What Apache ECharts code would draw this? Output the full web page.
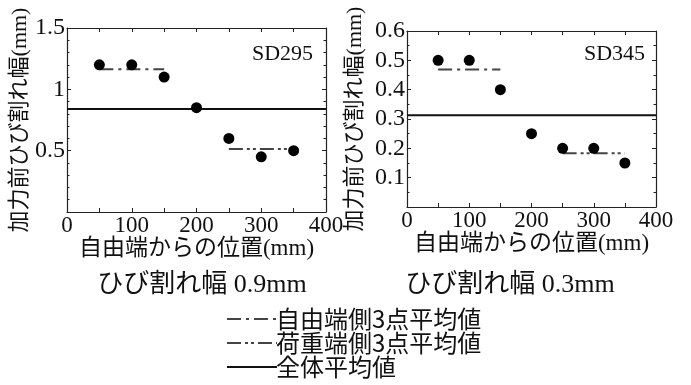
<!DOCTYPE html>
<html>
<head>
<meta charset="utf-8">
<script src="https://cdn.jsdelivr.net/npm/echarts@6/dist/echarts.min.js"></script>
<style>
html, body { margin: 0; background: #fff; }
#chart { width: 691px; height: 385px; }
</style>
</head>
<body>
<div id="chart"></div>
<script>
// 自由端からの位置 (mm)
var positions = [50, 100, 150, 200, 250, 300, 350];
// 加力前ひび割れ幅 (mm)
var crackSD295 = [1.2, 1.2, 1.1, 0.85, 0.6, 0.45, 0.5];
var crackSD345 = [0.5, 0.5, 0.4, 0.25, 0.2, 0.2, 0.15];
// averages
var freeAvgSD295 = 1.163, loadAvgSD295 = 0.514, allAvgSD295 = 0.84;
var freeAvgSD345 = 0.469, loadAvgSD345 = 0.183, allAvgSD345 = 0.313;
var freeRange = [50, 150];
var loadRange = [250, 350];
var fullRange = [0, 400];

var FONT = "'Liberation Serif', 'Noto Sans CJK JP', serif";
var SANS = "'Noto Sans CJK JP', sans-serif";
var NAME_FREE = '自由端側3点平均値';
var NAME_LOAD = '荷重端側3点平均値';
var NAME_ALL = '全体平均値';

var chartDom = document.getElementById('chart');
var myChart = echarts.init(chartDom);

function pts(xs, ys) {
  return xs.map(function (x, i) { return [x, ys[i]]; });
}
function hline(range, v) {
  return [[range[0], v], [range[1], v]];
}

var AXIS_LINE = { show: true, onZero: false, lineStyle: { color: '#222', width: 1.2 } };
function ticks(len) {
  return { show: true, inside: true, length: len, lineStyle: { color: '#222', width: 1 } };
}

function mainX(gi) {
  return {
    gridIndex: gi, type: 'value', position: 'bottom', min: 0, max: 400, interval: 100,
    name: '自由端からの位置(mm)', nameLocation: 'middle', nameGap: 24,
    nameTextStyle: { fontFamily: FONT, fontSize: 23, color: '#111' },
    axisLine: AXIS_LINE,
    axisTick: ticks(4),
    minorTick: Object.assign({ splitNumber: 2 }, ticks(4)),
    axisLabel: { fontFamily: FONT, fontSize: 23, color: '#111', margin: 2 },
    splitLine: { show: false }
  };
}
function mirrorX(gi) {
  return {
    gridIndex: gi, type: 'value', position: 'top', min: 0, max: 400, interval: 100,
    axisLine: AXIS_LINE,
    axisTick: ticks(4),
    minorTick: Object.assign({ splitNumber: 2 }, ticks(4)),
    axisLabel: { show: false },
    splitLine: { show: false }
  };
}
function mainY(gi, max, interval, minorSplit, gap) {
  return {
    gridIndex: gi, type: 'value', position: 'left', min: 0, max: max, interval: interval,
    name: '加力前ひび割れ幅(mm)', nameLocation: 'middle', nameGap: gap, nameRotate: 90,
    nameTextStyle: { fontFamily: FONT, fontSize: 22, color: '#111' },
    axisLine: AXIS_LINE,
    axisTick: ticks(4),
    minorTick: Object.assign({ splitNumber: minorSplit }, ticks(2.5)),
    axisLabel: { fontFamily: FONT, fontSize: 24, color: '#111', margin: 2, showMinLabel: false },
    splitLine: { show: false }
  };
}
function mirrorY(gi, max, interval, minorSplit) {
  return {
    gridIndex: gi, type: 'value', position: 'right', min: 0, max: max, interval: interval,
    axisLine: AXIS_LINE,
    axisTick: ticks(4),
    minorTick: Object.assign({ splitNumber: minorSplit }, ticks(2.5)),
    axisLabel: { show: false },
    splitLine: { show: false }
  };
}

function seriesFor(gi, ys, freeAvg, loadAvg, allAvg) {
  var axes = { xAxisIndex: gi * 2, yAxisIndex: gi * 2 };
  return [
    Object.assign({
      type: 'scatter', symbolSize: 11, itemStyle: { color: '#000', opacity: 1 },
      data: pts(positions, ys), z: 5
    }, axes),
    Object.assign({
      name: NAME_FREE, type: 'line', symbol: 'none', itemStyle: { color: '#444' },
      lineStyle: { color: '#444', width: 2, type: [14, 5, 3, 5] },
      data: hline(freeRange, freeAvg)
    }, axes),
    Object.assign({
      name: NAME_LOAD, type: 'line', symbol: 'none', itemStyle: { color: '#444' },
      lineStyle: { color: '#444', width: 2, type: [14, 4, 3, 3, 3, 4] },
      data: hline(loadRange, loadAvg)
    }, axes),
    Object.assign({
      name: NAME_ALL, type: 'line', symbol: 'none', itemStyle: { color: '#111' },
      lineStyle: { color: '#111', width: 2 },
      data: hline(fullRange, allAvg)
    }, axes)
  ];
}

var option = {
  animation: false,
  backgroundColor: '#fff',
  textStyle: { fontFamily: FONT },
  title: [
    { text: 'SD295', left: 247, top: 38, textStyle: { fontFamily: FONT, fontSize: 22, fontWeight: 'normal', color: '#111' } },
    { text: 'SD345', left: 579, top: 38, textStyle: { fontFamily: FONT, fontSize: 22, fontWeight: 'normal', color: '#111' } },
    { text: 'ひび割れ幅 0.9mm', left: 197, top: 267, textAlign: 'center', textStyle: { fontFamily: FONT, fontSize: 26, fontWeight: 'normal', color: '#111' } },
    { text: 'ひび割れ幅 0.3mm', left: 505, top: 267, textAlign: 'center', textStyle: { fontFamily: FONT, fontSize: 26, fontWeight: 'normal', color: '#111' } }
  ],
  legend: {
    orient: 'vertical', left: 226, top: 307, padding: 0,
    itemWidth: 50, itemHeight: 12, itemGap: 0,
    itemStyle: { opacity: 0 },
    data: [NAME_FREE, NAME_LOAD, NAME_ALL],
    textStyle: { fontFamily: SANS, fontSize: 24, lineHeight: 23, color: '#111', padding: [0, 0, 0, -6] }
  },
  grid: [
    { left: 67, top: 28, width: 259, height: 184 },
    { left: 407, top: 31, width: 249, height: 176 }
  ],
  xAxis: [mainX(0), mirrorX(0), mainX(1), mirrorX(1)],
  yAxis: [
    mainY(0, 1.5, 0.5, 5, 33), mirrorY(0, 1.5, 0.5, 5),
    mainY(1, 0.6, 0.1, 2, 41), mirrorY(1, 0.6, 0.1, 2)
  ],
  series: seriesFor(0, crackSD295, freeAvgSD295, loadAvgSD295, allAvgSD295)
    .concat(seriesFor(1, crackSD345, freeAvgSD345, loadAvgSD345, allAvgSD345))
};

myChart.setOption(option);
</script>
</body>
</html>
